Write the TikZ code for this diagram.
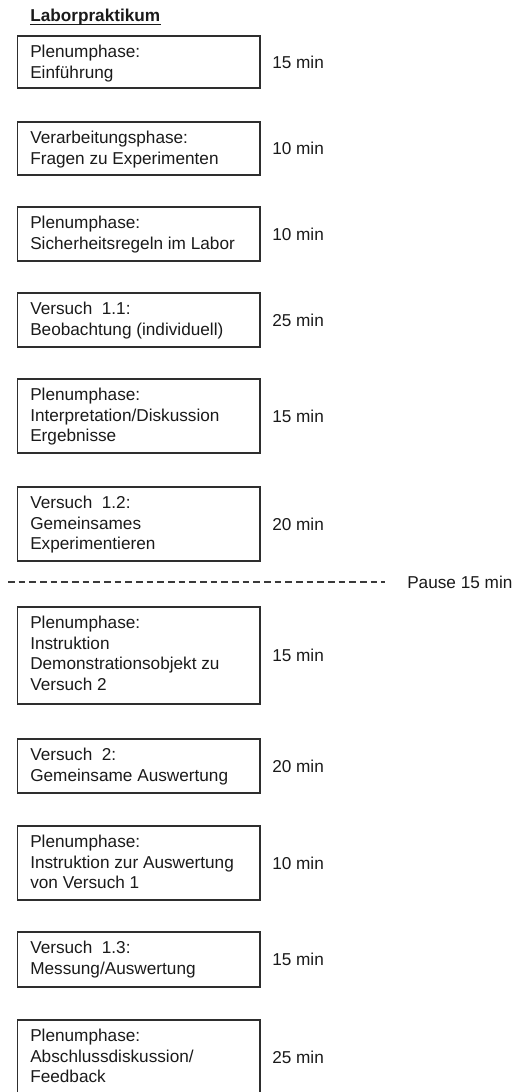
\documentclass[tikz,border=0pt]{standalone}
\usepackage{fontspec}
\setmainfont{Liberation Sans}
\usetikzlibrary{fit}
\definecolor{ink}{HTML}{1A1A1A}
\definecolor{framecol}{HTML}{2E2E2E}
\definecolor{dashcol}{HTML}{3A3A3A}
\newcommand\firstln{\rule{0pt}{9.5pt}}
\begin{document}
\begin{tikzpicture}[x=0.75pt,y=-0.75pt,
  boxshape/.style={draw=framecol, line width=0.95pt, inner sep=0pt, rectangle},
  boxtext/.style={anchor=north west, inner sep=0pt, align=left, text=ink,
    font=\fontsize{12.9}{15.4}\selectfont},
  mintext/.style={anchor=west, inner sep=0pt, text=ink,
    font=\fontsize{12.9}{15.4}\selectfont},
  titletext/.style={anchor=base west, inner sep=0pt, text=ink,
    font=\bfseries\fontsize{12.9}{15.4}\selectfont},
  pauseline/.style={draw=dashcol, line width=0.9pt, dash pattern=on 5pt off 3pt}]
\useasboundingbox (0,0) rectangle (513,1092);

\newcommand\phase[5]{%
  \node[boxshape, fit={(17.5,#2) (260,#3)}] (b#1) {};
  \node[boxtext] (t#1) at (30,#2+8.8) {\firstln #4};
  \node[mintext] (m#1) at (272,{(#2+#3)/2}) {#5};
}

\node[titletext] (title) at (30,21.5) {Laborpraktikum};
\draw[ink, line width=1pt] ([yshift=-2pt]title.base west) -- ([yshift=-2pt]title.base east);

\phase{1}{36}{88}{Plenumphase:\\Einführung}{15 min}
\phase{2}{122}{175}{Verarbeitungsphase:\\Fragen zu Experimenten}{10 min}
\phase{3}{207}{261}{Plenumphase:\\Sicherheitsregeln im Labor}{10 min}
\phase{4}{293}{347}{Versuch\hspace{0.55em}1.1:\\Beobachtung (individuell)}{25 min}
\phase{5}{379}{453}{Plenumphase:\\Interpretation/Diskussion\\Ergebnisse}{15 min}
\phase{6}{487}{561}{Versuch\hspace{0.55em}1.2:\\Gemeinsames\\Experimentieren}{20 min}

\coordinate (d1) at (8,582);
\coordinate (d2) at (385,582);
\draw[pauseline] (d1) -- (d2);
\node[mintext] (pause) at (407,582) {Pause 15 min};

\phase{7}{607}{704}{Plenumphase:\\Instruktion\\Demonstrationsobjekt zu\\Versuch 2}{15 min}
\phase{8}{739}{793}{Versuch\hspace{0.55em}2:\\Gemeinsame Auswertung}{20 min}
\phase{9}{826}{900}{Plenumphase:\\Instruktion zur Auswertung\\von Versuch 1}{10 min}
\phase{10}{932}{987}{Versuch\hspace{0.55em}1.3:\\Messung/Auswertung}{15 min}
\phase{11}{1020}{1095}{Plenumphase:\\Abschlussdiskussion/\\Feedback}{25 min}
\end{tikzpicture}
\end{document}
